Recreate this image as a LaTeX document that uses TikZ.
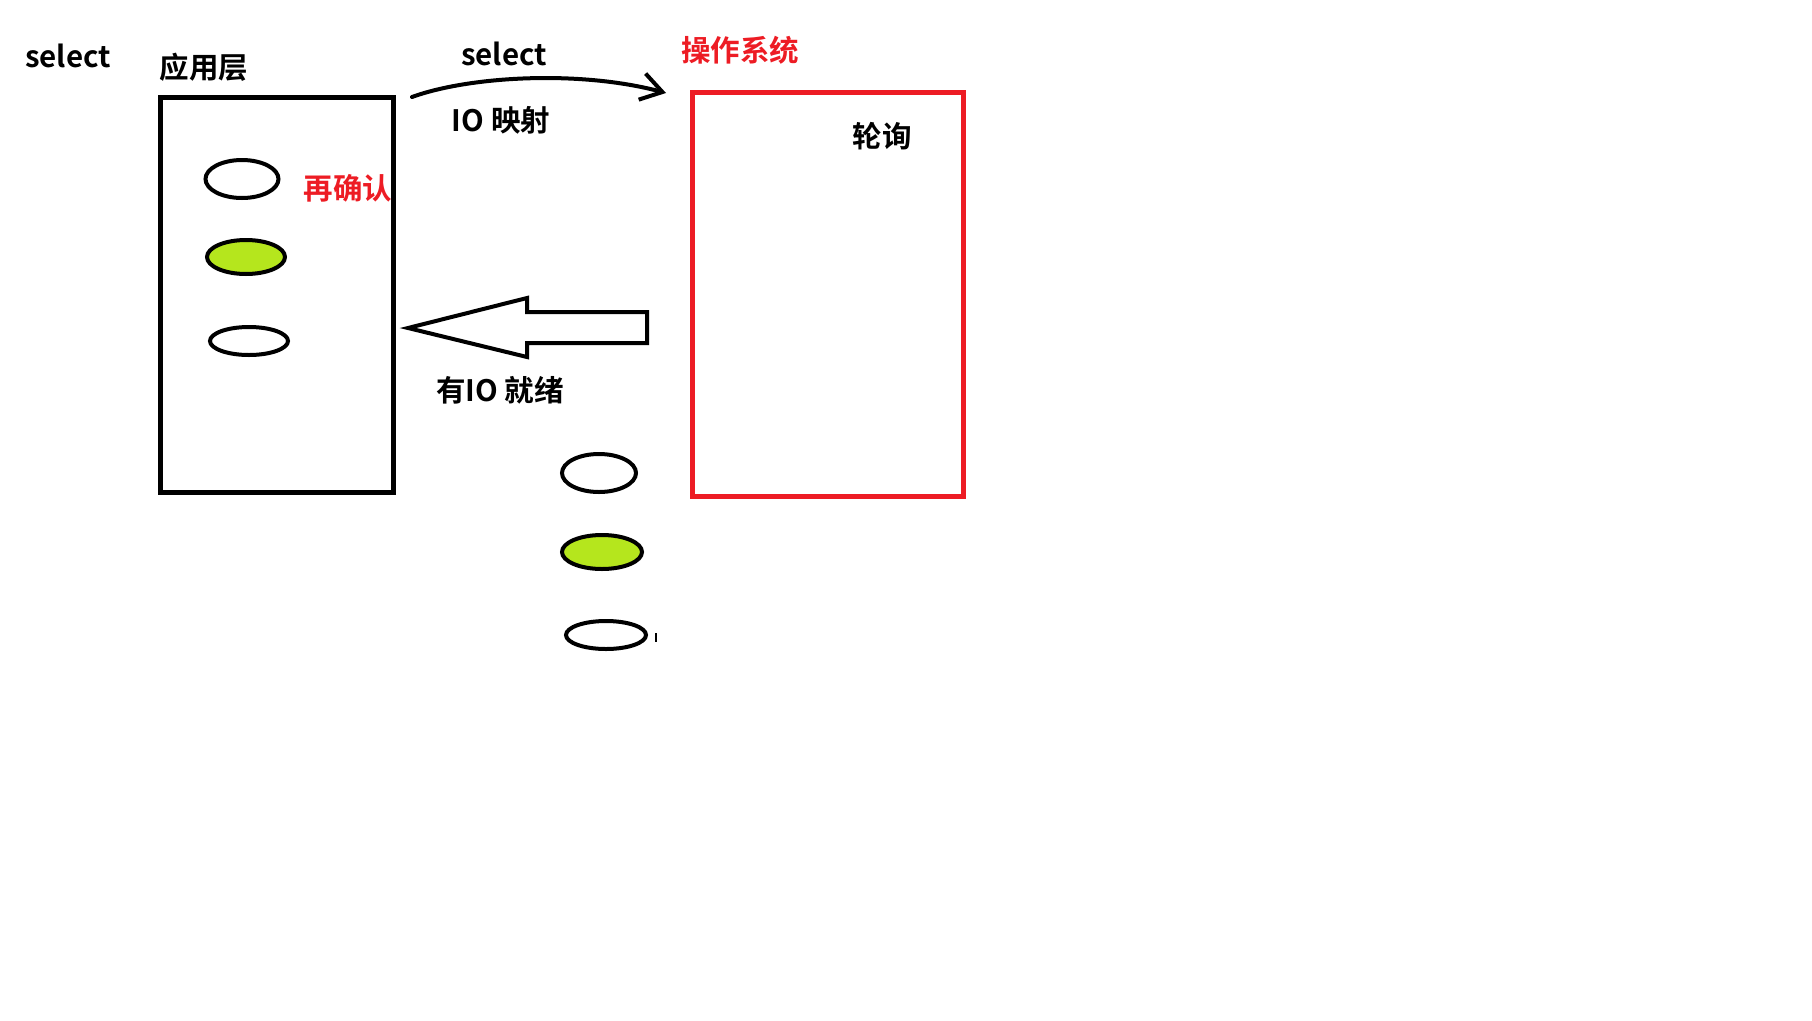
\documentclass[tikz,border=0pt]{standalone}
\usepackage{fontspec}
\setmainfont{Noto Sans CJK SC}[BoldFont={* Bold}]
\usetikzlibrary{shapes.geometric,arrows.meta,positioning}

\definecolor{paintred}{RGB}{237,28,36}
\definecolor{paintgreen}{RGB}{181,230,29}

\tikzset{
  lbl/.style={font=\fontsize{29.5}{33}\selectfont\bfseries, inner sep=0pt},
  redlbl/.style={lbl, text=paintred},
  fd/.style={draw, ellipse, line width=4pt, inner sep=0pt},
  ready/.style={fd, fill=paintgreen}
}

\begin{document}
\begin{tikzpicture}[x=1pt,y=-1pt]
\useasboundingbox (0,0) rectangle (1812,1020);

% layers
\node[draw, line width=4.8pt, minimum width=233pt, minimum height=395pt] (app) at (277,295) {};
\node[draw=paintred, line width=4.8pt, minimum width=271pt, minimum height=404pt] (os) at (828,294.5) {};

\node[lbl] (title) at (68,56) {select};
\node[lbl] (applbl) at (204,67) {应用层};
\node[redlbl] (oslbl) at (740,50) {操作系统};
\node[lbl] (poll) at (882,136) {轮询};
\node[redlbl] (recheck) at (348,188) {再确认};

% fds in the application
\node[fd, minimum width=73pt, minimum height=38pt] (a1) at (242,179) {};
\node[ready, minimum width=78pt, minimum height=34pt] (a2) at (246,257) {};
\node[fd, minimum width=78pt, minimum height=28pt] (a3) at (249,341) {};

% fds in the kernel
\node[fd, minimum width=74pt, minimum height=38pt] (k1) at (599,473) {};
\node[ready, minimum width=80pt, minimum height=34pt] (k2) at (602,552) {};
\node[fd, minimum width=80pt, minimum height=28pt] (k3) at (606,635) {};
\draw[line width=1.5pt] (656,633) -- (656,642);

% select call
\coordinate (callfrom) at (412,97);
\coordinate (callto) at (666,93);
\draw[line width=4pt, line cap=round, -{Straight Barb[length=21pt,width=27pt,line width=4pt]}]
  (callfrom) .. controls (470,76) and (580,70) .. (callto);
\node[lbl] (sel) at (504,54) {select};
\node[lbl] (iomap) at (501,120) {IO 映射};

% ready notification
\draw[line width=4pt, line join=miter] (408,328) -- (527,298) -- (527,312) -- (647,312)
  -- (647,343) -- (527,343) -- (527,357) -- cycle;
\node[lbl] (iordy) at (500,390) {有IO 就绪};

\end{tikzpicture}
\end{document}
